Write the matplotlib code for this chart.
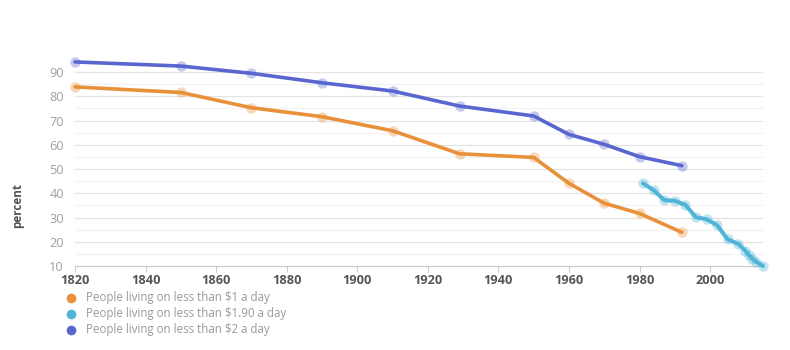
import matplotlib
matplotlib.use("Agg")
import matplotlib.pyplot as plt
from matplotlib.lines import Line2D

plt.rcParams['font.family'] = ['Open Sans', 'DejaVu Sans']

years_hist = [1820, 1850, 1870, 1890, 1910, 1929, 1950, 1960, 1970, 1980, 1992]
less_1 = [83.9, 81.6, 75.3, 71.6, 65.8, 56.3, 54.8, 44.1, 35.9, 31.7, 23.9]
less_2 = [94.2, 92.5, 89.5, 85.6, 82.2, 76.0, 71.9, 64.3, 60.2, 55.1, 51.4]

years_wb = [1981, 1984, 1987, 1990, 1993, 1996, 1999, 2002, 2005, 2008, 2010, 2011, 2012, 2013, 2015]
less_190 = [44.1, 41.3, 37.2, 36.9, 35.2, 30.1, 29.3, 26.8, 21.0, 19.1, 16.3, 14.5, 13.0, 11.8, 10.0]

series_labels = ["People living on less than $1 a day",
                 "People living on less than $1.90 a day",
                 "People living on less than $2 a day"]
colors = ["#e8913a", "#4fb4d8", "#5a66d0"]

x_ticks = list(range(1820, 2001, 20))
y_ticks = list(range(10, 91, 10))
y_minor = list(range(15, 90, 10))

fig = plt.figure(figsize=(7.9, 3.5), dpi=100)
ax = fig.add_axes([75/790, 1-266/350, (763-75)/790, (266-60)/350])

for yv in y_ticks[1:]:
    ax.axhline(yv, color="#e3e3e3", lw=0.9, zorder=0)
for yv in y_minor:
    ax.axhline(yv, color="#f2f2f2", lw=0.9, zorder=0)

data = [(years_hist, less_1), (years_wb, less_190), (years_hist, less_2)]
lws = [2.6, 2.9, 2.6]
for (xs, ys), c, lw in zip(data, colors, lws):
    ax.plot(xs, ys, color=c, lw=lw, zorder=3, solid_capstyle='round', clip_on=False)
    ax.plot(xs, ys, 'o', color=c, ms=7.5, alpha=0.35, mec='none', zorder=4, clip_on=False)

ax.set_xlim(1820, 2015)
ax.set_ylim(10, 95)
ax.set_xticks(x_ticks)
ax.set_yticks(y_ticks)
ax.set_xticklabels([str(v) for v in x_ticks], fontsize=9.2, fontweight='bold', color="#555555")
ax.set_yticklabels([str(v) for v in y_ticks], fontsize=9.2, color="#a0a0a0")

for s in ['top', 'right', 'left']:
    ax.spines[s].set_visible(False)
ax.spines['bottom'].set_color("#cccccc")
ax.spines['bottom'].set_linewidth(0.9)
ax.tick_params(axis='y', length=0, pad=8)
ax.tick_params(axis='x', length=4, color="#cccccc", pad=2)

fig.text(18/790, 1-205/350, "percent", rotation=90, ha='center', va='center',
         fontsize=8.5, fontweight='bold', color="#555555")

for i, (lab, c) in enumerate(zip(series_labels, colors)):
    yy = 1 - (298 + i*16)/350
    fig.add_artist(Line2D([71/790], [yy], marker='o', color=c, ms=7, mec='none',
                          transform=fig.transFigure))
    fig.text(86/790, yy, lab, ha='left', va='center', fontsize=8.3, color="#999999")

fig.savefig("out.png", dpi=100)
